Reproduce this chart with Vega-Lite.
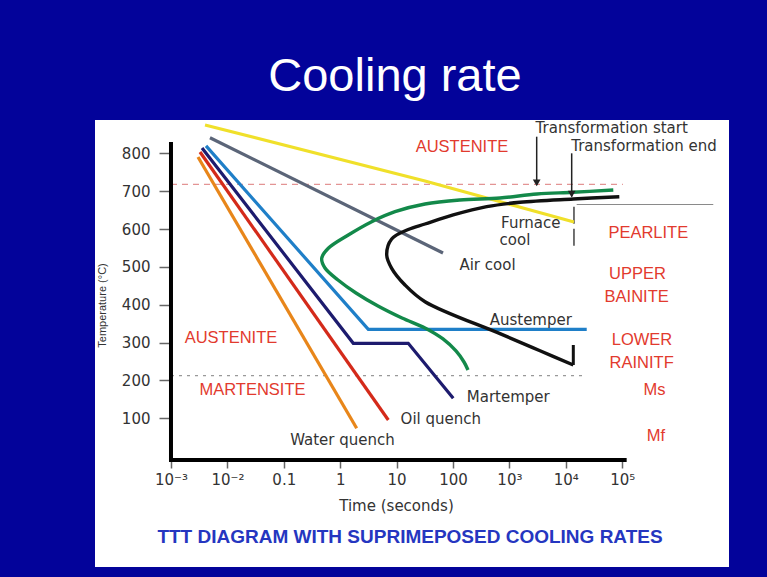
{
  "$schema": "https://vega.github.io/schema/vega-lite/v6.json",
  "width": 634,
  "height": 447,
  "autosize": {"type": "none"},
  "padding": {"left": 95, "top": 120, "right": 38, "bottom": 10},
  "background": "#03039a",
  "config": {
    "view": {"stroke": null, "fill": "white"},
    "axis": {"grid": false, "domain": false}
  },
  "title": {
    "text": "Cooling rate",
    "color": "white",
    "font": "Liberation Sans",
    "fontSize": 47,
    "fontWeight": "normal",
    "anchor": "middle",
    "dx": -17,
    "dy": 46,
    "offset": 27,
    "baseline": "alphabetic"
  },
  "datasets": {
    "curves": [
      {"s": "furnace", "i": 0, "t": 0.00401, "T": 874.8},
      {"s": "furnace", "i": 1, "t": 31.9, "T": 727},
      {"s": "furnace", "i": 2, "t": 13960, "T": 618.6},
      {"s": "air", "i": 0, "t": 0.00491, "T": 841.2},
      {"s": "air", "i": 1, "t": 66.5, "T": 536.7},
      {"s": "austemper", "i": 0, "t": 0.00418, "T": 819.6},
      {"s": "austemper", "i": 1, "t": 3.15, "T": 335.2},
      {"s": "austemper", "i": 2, "t": 23500, "T": 335.2},
      {"s": "martemper", "i": 0, "t": 0.00355, "T": 814},
      {"s": "martemper", "i": 1, "t": 1.707, "T": 298.2},
      {"s": "martemper", "i": 2, "t": 16.1, "T": 298.2},
      {"s": "martemper", "i": 3, "t": 101, "T": 152.9},
      {"s": "oil", "i": 0, "t": 0.00327, "T": 803.5},
      {"s": "oil", "i": 1, "t": 7.13, "T": 95.6},
      {"s": "water", "i": 0, "t": 0.00301, "T": 790.3},
      {"s": "water", "i": 1, "t": 1.96, "T": 73.7}
    ],
    "ccurves": [
      {"s": "start", "i": 0, "t": 69550, "T": 703.1},
      {"s": "start", "i": 1, "t": 13430, "T": 697.0},
      {"s": "start", "i": 2, "t": 3083, "T": 692.5},
      {"s": "start", "i": 3, "t": 680.8, "T": 682.0},
      {"s": "start", "i": 4, "t": 133, "T": 676.7},
      {"s": "start", "i": 5, "t": 31.9, "T": 666.1},
      {"s": "start", "i": 6, "t": 9.38, "T": 645.8},
      {"s": "start", "i": 7, "t": 3.62, "T": 619.4},
      {"s": "start", "i": 8, "t": 1.392, "T": 584.3},
      {"s": "start", "i": 9, "t": 0.615, "T": 549.1},
      {"s": "start", "i": 10, "t": 0.47, "T": 522.7},
      {"s": "start", "i": 11, "t": 0.5376, "T": 497.1},
      {"s": "start", "i": 12, "t": 0.9141, "T": 465.4},
      {"s": "start", "i": 13, "t": 1.906, "T": 431.1},
      {"s": "start", "i": 14, "t": 4.68, "T": 396.7},
      {"s": "start", "i": 15, "t": 12.46, "T": 365.0},
      {"s": "start", "i": 16, "t": 31.88, "T": 338.6},
      {"s": "start", "i": 17, "t": 66.48, "T": 309.6},
      {"s": "start", "i": 18, "t": 113.0, "T": 277.9},
      {"s": "start", "i": 19, "t": 156.7, "T": 248.8},
      {"s": "start", "i": 20, "t": 184.5, "T": 227.7},
      {"s": "end", "i": 0, "t": 88950, "T": 685.4},
      {"s": "end", "i": 1, "t": 13590, "T": 679.3},
      {"s": "end", "i": 2, "t": 1542, "T": 670.6},
      {"s": "end", "i": 3, "t": 396, "T": 659.0},
      {"s": "end", "i": 4, "t": 101, "T": 637.1},
      {"s": "end", "i": 5, "t": 31.9, "T": 613.3},
      {"s": "end", "i": 6, "t": 16.1, "T": 598.8},
      {"s": "end", "i": 7, "t": 8.18, "T": 573.7},
      {"s": "end", "i": 8, "t": 6.68, "T": 531.4},
      {"s": "end", "i": 9, "t": 8.18, "T": 496.3},
      {"s": "end", "i": 10, "t": 14.1, "T": 452.2},
      {"s": "end", "i": 11, "t": 31.9, "T": 408.1},
      {"s": "end", "i": 12, "t": 680.8, "T": 323.6},
      {"s": "end", "i": 13, "t": 3488, "T": 278.4},
      {"s": "end", "i": 14, "t": 13590, "T": 240.9}
    ],
    "rules": [
      {"k": "a1", "t": 0.001, "t2": 103000, "T": 718, "T2": 718},
      {"k": "ms", "t": 0.001, "t2": 23500, "T": 213, "T2": 213},
      {"k": "vdash", "t": 13960, "t2": 13960, "T": 659, "T2": 544.6},
      {"k": "hthin", "t": 15600, "t2": 4120000, "T": 664.8, "T2": 664.8},
      {"k": "arrow", "t": 3048, "t2": 3048, "T": 843.9, "T2": 716},
      {"k": "arrow", "t": 12720, "t2": 12720, "T": 800, "T2": 686},
      {"k": "tick", "t": 13590, "t2": 13590, "T": 240.9, "T2": 293.7},
      {"k": "axis", "t": 0.001, "t2": 0.001, "T": -15, "T2": 830},
      {"k": "axis", "t": 0.000922, "t2": 120000, "T": -10, "T2": -10}
    ],
    "heads": [
      {"t": 3048, "T": 722},
      {"t": 12720, "T": 692}
    ],
    "labels": [
      {"g": "red", "text": "AUSTENITE", "t": 144.4, "T": 816.7},
      {"g": "red", "text": "AUSTENITE", "t": 0.01158, "T": 311.4},
      {"g": "red", "text": "MARTENSITE", "t": 0.02786, "T": 174.9},
      {"g": "red", "text": "PEARLITE", "t": 290200, "T": 588.7},
      {"g": "red", "text": "UPPER", "t": 186700, "T": 480.5},
      {"g": "red", "text": "BAINITE", "t": 180800, "T": 421.3},
      {"g": "red", "text": "LOWER", "t": 224500, "T": 306.9},
      {"g": "red", "text": "RAINITF", "t": 221700, "T": 247.0},
      {"g": "red", "text": "Ms", "t": 373900, "T": 174.9},
      {"g": "red", "text": "Mf", "t": 397500, "T": 53.4},
      {"g": "black", "text": "Transformation start", "t": 65140, "T": 867.7},
      {"g": "black", "text": "Transformation end", "t": 243500, "T": 820.1},
      {"g": "black", "text": "Furnace", "t": 2395, "T": 615.2},
      {"g": "black", "text": "cool", "t": 1257, "T": 571.0},
      {"g": "black", "text": "Air cool", "t": 408.9, "T": 505.0},
      {"g": "black", "text": "Austemper", "t": 2395, "T": 359.7},
      {"g": "black", "text": "Martemper", "t": 956, "T": 155.6},
      {"g": "black", "text": "Oil quench", "t": 60.8, "T": 97.5},
      {"g": "black", "text": "Water quench", "t": 1.098, "T": 42.8},
      {"g": "caption", "text": "TTT DIAGRAM WITH SUPRIMEPOSED COOLING RATES", "t": 17.29, "T": -213.4}
    ]
  },
  "encoding": {
    "x": {
      "field": "t",
      "type": "quantitative",
      "scale": {"type": "log", "domain": [0.00004494, 7829000], "nice": false, "zero": false},
      "axis": {
        "orient": "bottom",
        "offset": -107,
        "values": [0.001, 0.01, 0.1, 1, 10, 100, 1000, 10000, 100000],
        "labelExpr": "datum.value < 0.005 ? '10⁻³' : datum.value < 0.05 ? '10⁻²' : datum.value < 0.5 ? '0.1' : datum.value < 5 ? '1' : datum.value < 50 ? '10' : datum.value < 500 ? '100' : datum.value < 5000 ? '10³' : datum.value < 50000 ? '10⁴' : '10⁵'",
        "tickSize": 8,
        "tickColor": "#666",
        "tickWidth": 1.5,
        "labelFont": "DejaVu Sans",
        "labelFontSize": 15,
        "labelColor": "#333",
        "labelPadding": 4,
        "labelOverlap": false,
        "labelFlush": false,
        "title": "Time (seconds)",
        "titleFont": "DejaVu Sans",
        "titleFontSize": 15,
        "titleFontWeight": "normal",
        "titleColor": "#333",
        "titleX": 301,
        "titleY": 45,
        "titleAlign": "center",
        "titleBaseline": "middle"
      }
    },
    "y": {
      "field": "T",
      "type": "quantitative",
      "scale": {"domain": [-292.7, 888], "nice": false, "zero": false},
      "axis": {
        "orient": "left",
        "offset": -74,
        "values": [100, 200, 300, 400, 500, 600, 700, 800],
        "tickSize": 10,
        "tickColor": "#666",
        "tickWidth": 1.5,
        "labelFont": "DejaVu Sans",
        "labelFontSize": 15,
        "labelColor": "#333",
        "labelPadding": 9,
        "labelOverlap": false,
        "labelFlush": false,
        "title": "Temperature (°C)",
        "titleFont": "Liberation Sans",
        "titleFontSize": 11,
        "titleFontWeight": "normal",
        "titleColor": "#333",
        "titleX": -67,
        "titleY": 185,
        "titleAngle": 270,
        "titleAlign": "center",
        "titleBaseline": "middle"
      }
    }
  },
  "layer": [
    {
      "data": {"name": "rules"},
      "transform": [{"filter": "datum.k == 'a1'"}],
      "mark": {"type": "rule", "color": "#e39494", "strokeDash": [6, 5], "strokeWidth": 1.3},
      "encoding": {"x2": {"field": "t2"}, "y2": {"field": "T2"}}
    },
    {
      "data": {"name": "rules"},
      "transform": [{"filter": "datum.k == 'ms'"}],
      "mark": {"type": "rule", "color": "#999", "strokeDash": [3, 5], "strokeWidth": 1.3},
      "encoding": {"x2": {"field": "t2"}, "y2": {"field": "T2"}}
    },
    {
      "data": {"name": "rules"},
      "transform": [{"filter": "datum.k == 'vdash'"}],
      "mark": {"type": "rule", "color": "#444", "strokeDash": [17, 5], "strokeWidth": 1.5},
      "encoding": {"x2": {"field": "t2"}, "y2": {"field": "T2"}}
    },
    {
      "data": {"name": "rules"},
      "transform": [{"filter": "datum.k == 'hthin'"}],
      "mark": {"type": "rule", "color": "#8a8a8a", "strokeWidth": 1},
      "encoding": {"x2": {"field": "t2"}, "y2": {"field": "T2"}}
    },
    {
      "data": {"name": "curves"},
      "mark": {"type": "line", "strokeWidth": 3.2, "strokeCap": "butt", "strokeJoin": "miter"},
      "encoding": {
        "color": {
          "field": "s",
          "type": "nominal",
          "scale": {
            "domain": ["furnace", "air", "austemper", "martemper", "oil", "water"],
            "range": ["#f0e02a", "#5b6578", "#1f7fc8", "#1d1b6e", "#d42a1a", "#e8861a"]
          },
          "legend": null
        },
        "order": {"field": "i", "type": "quantitative"}
      }
    },
    {
      "data": {"name": "ccurves"},
      "mark": {"type": "line", "strokeWidth": 3.4, "interpolate": "catmull-rom"},
      "encoding": {
        "stroke": {
          "field": "s",
          "type": "nominal",
          "scale": {"domain": ["start", "end"], "range": ["#13894a", "#111111"]},
          "legend": null
        },
        "order": {"field": "i", "type": "quantitative"}
      }
    },
    {
      "data": {"name": "rules"},
      "transform": [{"filter": "datum.k == 'tick'"}],
      "mark": {"type": "rule", "color": "#111", "strokeWidth": 3},
      "encoding": {"x2": {"field": "t2"}, "y2": {"field": "T2"}}
    },
    {
      "data": {"name": "rules"},
      "transform": [{"filter": "datum.k == 'arrow'"}],
      "mark": {"type": "rule", "color": "#222", "strokeWidth": 1.5},
      "encoding": {"x2": {"field": "t2"}, "y2": {"field": "T2"}}
    },
    {
      "data": {"name": "heads"},
      "mark": {"type": "point", "shape": "triangle-down", "filled": true, "size": 60, "color": "#222", "opacity": 1}
    },
    {
      "data": {"name": "rules"},
      "transform": [{"filter": "datum.k == 'axis'"}],
      "mark": {"type": "rule", "color": "#000", "strokeWidth": 4},
      "encoding": {"x2": {"field": "t2"}, "y2": {"field": "T2"}}
    },
    {
      "data": {"name": "labels"},
      "transform": [{"filter": "datum.g == 'red'"}],
      "mark": {"type": "text", "font": "Liberation Sans", "fontSize": 16.5, "color": "#e23a2e", "align": "center", "baseline": "middle"},
      "encoding": {"text": {"field": "text"}}
    },
    {
      "data": {"name": "labels"},
      "transform": [{"filter": "datum.g == 'black'"}],
      "mark": {"type": "text", "font": "DejaVu Sans", "fontSize": 15, "color": "#333", "align": "center", "baseline": "middle"},
      "encoding": {"text": {"field": "text"}}
    },
    {
      "data": {"name": "labels"},
      "transform": [{"filter": "datum.g == 'caption'"}],
      "mark": {"type": "text", "font": "Liberation Sans", "fontSize": 19, "fontWeight": "bold", "color": "#2536c0", "align": "center", "baseline": "middle"},
      "encoding": {"text": {"field": "text"}}
    }
  ]
}
